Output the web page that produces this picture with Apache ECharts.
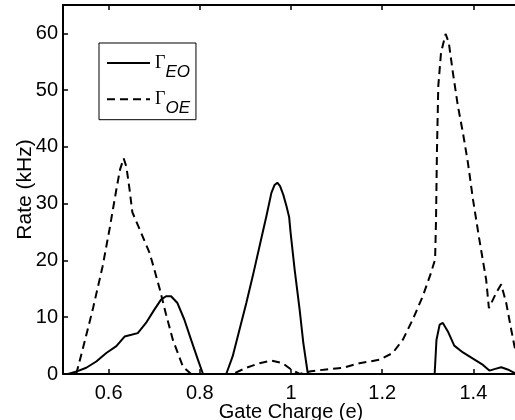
<!DOCTYPE html>
<html>
<head>
<meta charset="utf-8">
<script src="https://cdn.jsdelivr.net/npm/echarts@6/dist/echarts.min.js"></script>
<style>
html,body{margin:0;padding:0;background:#fff;}
#chart{width:515px;height:420px;}
</style>
</head>
<body>
<div id="chart"></div>
<script>
// Gate charge (e) and rates (kHz)
var eoX = [0.511, 0.532, 0.551, 0.573, 0.595, 0.617, 0.635, 0.650, 0.664, 0.682, 0.700, 0.715, 0.726, 0.737, 0.751, 0.766, 0.781, 0.796, 0.807,
           0.858, 0.872, 0.887, 0.902, 0.916, 0.931, 0.946, 0.957, 0.964, 0.970, 0.976, 0.983, 0.990, 0.996, 0.999, 1.008, 1.019, 1.027, 1.037,
           1.315, 1.319, 1.326, 1.333, 1.344, 1.358, 1.377, 1.399, 1.421, 1.435, 1.448, 1.461, 1.475, 1.490, 1.500];
var eoY = [0, 0.5, 1.1, 2.2, 3.7, 4.9, 6.6, 6.9, 7.2, 9.0, 11.3, 13.1, 13.7, 13.7, 12.5, 9.6, 6.0, 2.5, 0,
           0, 3.1, 7.8, 12.5, 17.2, 22.5, 27.8, 31.9, 33.3, 33.7, 33.1, 31.6, 29.6, 27.6, 25.0, 18.4, 11.3, 5.5, 0,
           0, 6.0, 8.7, 9.0, 7.5, 5.0, 3.8, 2.7, 1.6, 0.6, 0.9, 1.2, 0.8, 0.2, 0];
var oeX = [0.529, 0.543, 0.565, 0.587, 0.602, 0.617, 0.625, 0.633, 0.639, 0.646, 0.652, 0.668, 0.690, 0.700, 0.712, 0.726, 0.741, 0.763, 0.781,
           0.872, 0.902, 0.931, 0.957, 0.982, 1.000, 1.019, 1.044, 1.077, 1.114, 1.150, 1.194, 1.223, 1.245, 1.267, 1.289, 1.307, 1.316,
           1.318, 1.320, 1.323, 1.329, 1.339, 1.346, 1.355, 1.366, 1.377, 1.388, 1.399, 1.413, 1.428, 1.434, 1.450, 1.461, 1.472, 1.483, 1.490, 1.500];
var oeY = [0, 4.3, 11.3, 19, 25.5, 32.5, 36, 38, 36.5, 32.5, 28.5, 25.5, 21.3, 18.5, 15, 10.5, 6, 1.3, 0,
           0, 1.1, 1.9, 2.35, 1.9, 0.8, 0, 0.5, 0.8, 1.1, 1.9, 2.5, 3.7, 6, 9.6, 13.7, 17.8, 20.2,
           27, 39, 50.7, 56.6, 59.9, 58.4, 53.1, 47.2, 42.5, 37.2, 30.8, 23.7, 16.6, 11.6, 14.3, 15.8, 12.5, 7.8, 4.9, 2];
var seriesNames = ['EO', 'OE'];
var xTicks = [0.6, 0.8, 1.0, 1.2, 1.4];
var yTicks = [0, 10, 20, 30, 40, 50, 60];
var xName = 'Gate Charge (e)';
var yName = 'Rate (kHz)';

function zip(xs, ys) { return xs.map(function (x, i) { return [x, ys[i]]; }); }

var font = 'Liberation Sans, Arial, sans-serif';
var axisLineStyle = { color: '#000', width: 2 };
var chart = echarts.init(document.getElementById('chart'));
chart.setOption({
  animation: false,
  backgroundColor: '#fff',
  grid: { left: 63, top: 5, width: 456, height: 369, outerBoundsMode: 'none', containLabel: false },
  legend: {
    orient: 'vertical',
    left: 99, top: 43,
    padding: [11, 6, 3, 7],
    itemGap: 9.7,
    itemWidth: 43,
    itemHeight: 14,
    borderColor: '#000',
    borderWidth: 1,
    itemStyle: { opacity: 0 },
    data: seriesNames,
    formatter: function (n) { return '{g|\u0393}{s|' + n + '}'; },
    textStyle: {
      color: '#000',
      rich: {
        g: { fontFamily: 'Liberation Serif, Times New Roman, serif', fontSize: 18, color: '#000' },
        s: { fontFamily: font, fontStyle: 'italic', fontSize: 17, color: '#000', padding: [18, 0, 0, 0] }
      }
    }
  },
  xAxis: [{
    type: 'value', min: 0.5, max: 1.5,
    name: xName, nameLocation: 'middle', nameGap: 28, nameMoveOverlap: false,
    nameTextStyle: { fontFamily: font, fontSize: 20, color: '#000' },
    axisLine: { onZero: false, lineStyle: axisLineStyle },
    axisTick: { inside: true, length: 5, customValues: xTicks, lineStyle: { color: '#000', width: 1.5 } },
    axisLabel: { customValues: xTicks, fontFamily: font, fontSize: 20, color: '#000', margin: 9 },
    splitLine: { show: false }
  }, {
    type: 'value', min: 0.5, max: 1.5, position: 'top',
    axisLine: { onZero: false, lineStyle: axisLineStyle },
    axisTick: { inside: true, length: 5, customValues: xTicks, lineStyle: { color: '#000', width: 1.5 } },
    axisLabel: { show: false },
    splitLine: { show: false }
  }],
  yAxis: {
    type: 'value', min: 0, max: 65,
    name: yName, nameLocation: 'middle', nameGap: 27, nameMoveOverlap: false,
    nameTextStyle: { fontFamily: font, fontSize: 21, color: '#000' },
    axisLine: { show: true, lineStyle: axisLineStyle },
    axisTick: { show: true, inside: true, length: 5, customValues: yTicks, lineStyle: { color: '#000', width: 1.5 } },
    axisLabel: { customValues: yTicks, fontFamily: font, fontSize: 20, color: '#000', margin: 5 },
    splitLine: { show: false }
  },
  series: [{
    name: seriesNames[0], type: 'line', xAxisIndex: 0, symbol: 'none',
    data: zip(eoX, eoY),
    lineStyle: { color: '#000', width: 2, type: 'solid' },
    itemStyle: { color: '#000' }
  }, {
    name: seriesNames[1], type: 'line', xAxisIndex: 0, symbol: 'none',
    data: zip(oeX, oeY),
    lineStyle: { color: '#000', width: 2, type: [8, 5] },
    itemStyle: { color: '#000' }
  }]
});
</script>
</body>
</html>
